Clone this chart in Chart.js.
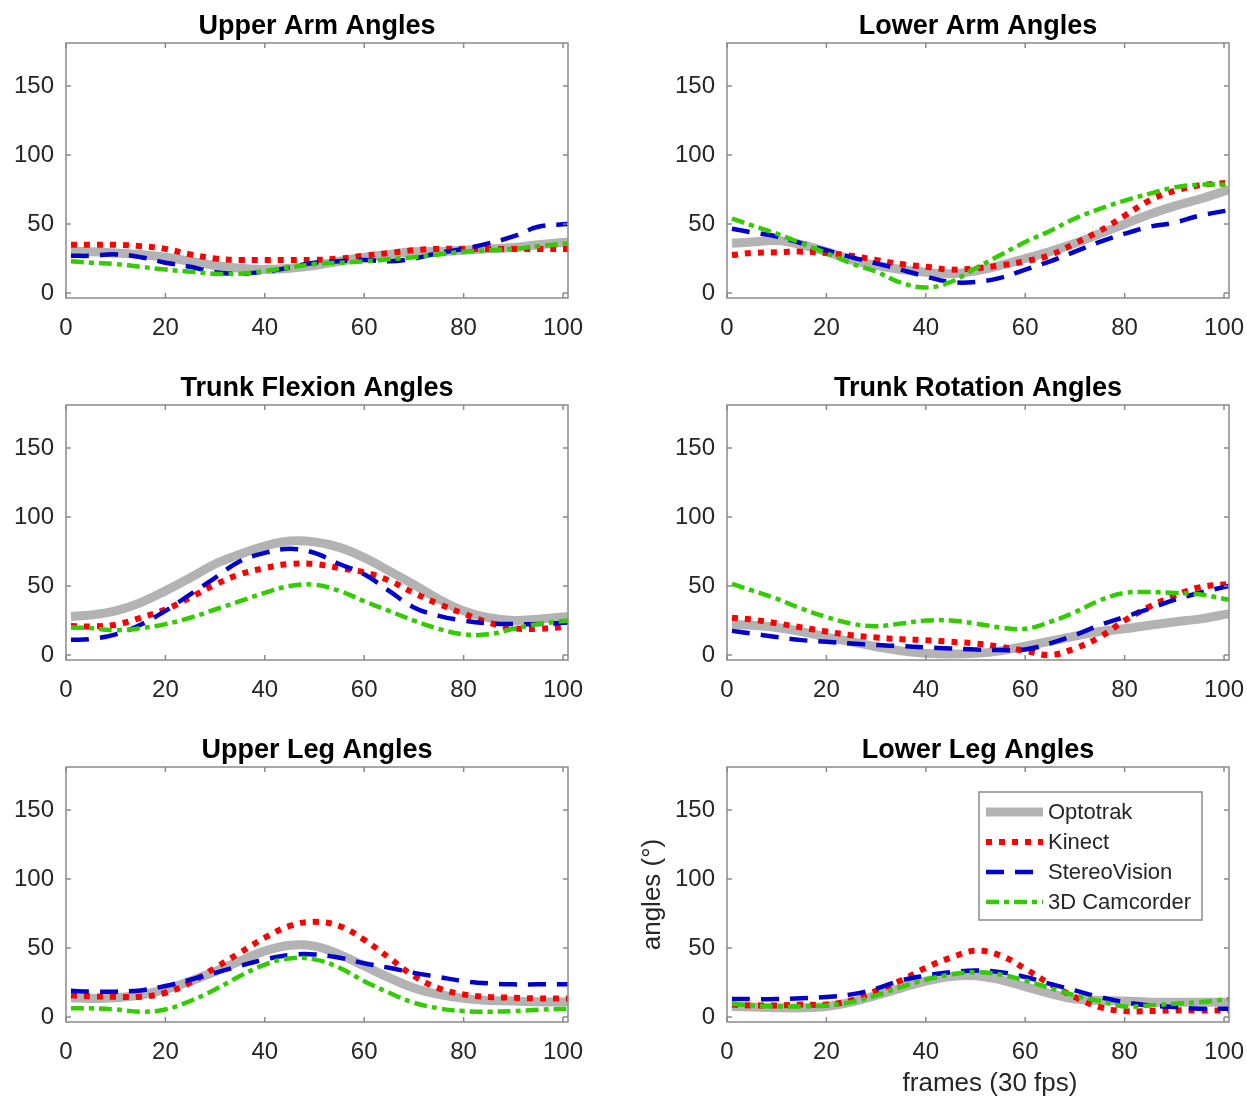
<!DOCTYPE html>
<html>
<head>
<meta charset="utf-8">
<script src="https://cdn.jsdelivr.net/npm/chart.js@4.4.0/dist/chart.umd.min.js"></script>
<style>
  html, body { margin: 0; padding: 0; background: #fff; overflow: hidden; }
  body { width: 1247px; height: 1099px; position: relative; }
  canvas { position: absolute; }
</style>
</head>
<body>
<canvas id="c0" width="600" height="348" style="left:0px;top:0px"></canvas>
<canvas id="c1" width="586" height="348" style="left:661px;top:0px"></canvas>
<canvas id="c2" width="600" height="348" style="left:0px;top:362px"></canvas>
<canvas id="c3" width="586" height="348" style="left:661px;top:362px"></canvas>
<canvas id="c4" width="600" height="348" style="left:0px;top:724px"></canvas>
<canvas id="c5" width="617" height="375" style="left:630px;top:724px"></canvas>
<script>
// frames sampled off the figure (x axis), tick labels
const frames = [1, 5, 10, 15, 20, 25, 30, 35, 40, 45, 50, 55, 60, 65, 70, 75, 80, 85, 90, 95, 101];
const xTicks = [0, 20, 40, 60, 80, 100];
const yTicks = [0, 50, 100, 150];

const seriesNames = ['Optotrak', 'Kinect', 'StereoVision', '3D Camcorder'];
const panelTitles = ['Upper Arm Angles', 'Lower Arm Angles', 'Trunk Flexion Angles',
  'Trunk Rotation Angles', 'Upper Leg Angles', 'Lower Leg Angles'];

// Upper arm
const upperArmOpto   = [30, 30, 29, 28, 26, 23, 20, 18, 17, 18, 20, 23, 26, 28, 30, 30, 31, 32, 33, 35, 37];
const upperArmKinect = [35, 35, 35, 34, 32, 28, 25, 24, 24, 24, 24, 25, 27, 29, 31, 32, 32, 32, 32, 32, 32];
const upperArmStereo = [27, 27, 28, 26, 22, 19, 15, 14, 15.5, 18.5, 22, 23, 24, 23, 25, 29, 32, 36, 41, 48, 50];
const upperArmCam    = [23, 22, 21, 19, 17, 15.5, 14, 14, 16, 18.5, 21, 22, 23, 24.5, 26, 28, 30, 31, 32, 34, 36];

// Lower arm
const lowerArmOpto   = [36, 37, 38, 35, 30, 24, 20, 17, 15, 14, 16, 20, 25, 30, 36, 43, 50, 57, 63, 68, 75];
const lowerArmKinect = [27.5, 29, 29.5, 30, 29, 27, 24, 21, 19, 17, 18, 20, 23, 27.5, 36, 45, 56, 67, 74, 78, 80];
const lowerArmStereo = [46.6, 44, 41, 36, 31, 26, 21.5, 17, 12, 8, 8, 11, 17, 23, 30, 37, 43, 48, 51, 56, 60];
const lowerArmCam    = [54, 49, 43, 36, 29, 21.5, 15.5, 7.5, 4, 8, 18, 27.5, 37, 45, 54, 61, 67, 72, 76.5, 78.5, 78.5];

// Trunk flexion
const trunkFlexOpto   = [28, 29, 32, 38, 46.5, 56, 66, 73, 79, 82.6, 82, 78, 70.6, 61, 51, 40.5, 32, 27, 25, 26, 28];
const trunkFlexKinect = [21, 20.7, 22, 27, 33, 41.7, 51, 58.5, 63, 66, 66, 63, 60, 54, 45, 37, 30, 23.6, 19.5, 19, 20.5];
const trunkFlexStereo = [11, 11.6, 15, 22, 32, 44, 56, 68, 74, 77, 74, 66, 58.5, 46.5, 34.5, 28.4, 25, 23, 22.4, 22.4, 23.6];
const trunkFlexCam    = [20, 19.5, 18, 19.5, 22.4, 27, 33, 39, 45, 50, 51, 46.5, 39, 32, 25, 19, 15, 15, 19, 22.4, 25];

// Trunk rotation
const trunkRotOpto   = [22, 21.6, 20, 17, 13, 9.6, 6, 3, 1.2, 0.7, 1.2, 3, 6.5, 10, 13.7, 17, 19, 21.6, 24, 26, 30];
const trunkRotKinect = [27, 25.7, 23, 20, 17, 14.4, 12.7, 11.5, 10.8, 9.6, 8.4, 6, 3, 0, 4.8, 13, 25, 35, 43, 49, 51.5];
const trunkRotStereo = [17.5, 15.6, 13, 10.8, 9.6, 8.4, 7.2, 6.5, 5.5, 4.8, 4, 3.6, 4, 8.4, 14.4, 21.6, 27.6, 33.6, 40, 45, 50];
const trunkRotCam    = [51.5, 46.8, 40.8, 33.6, 27.6, 22.8, 20.9, 22.8, 25, 25, 22.8, 20, 19, 24, 31, 39.6, 45, 45.6, 45, 44, 40];

// Upper leg
const upperLegOpto   = [14, 13.5, 14, 16, 20, 26, 33, 40.6, 47.8, 52, 51.4, 45.4, 37, 28.5, 21, 16.4, 13.5, 12, 11.6, 11, 11];
const upperLegKinect = [15.7, 15, 14.7, 14.7, 17.6, 25, 35.7, 46.6, 57.5, 66, 69, 66, 56, 43, 29.7, 20.8, 16.4, 14.5, 14, 13.5, 13.5];
const upperLegStereo = [19, 18.4, 18.4, 19.3, 22.5, 27, 32, 37, 41.8, 45, 45.4, 43, 39, 35.7, 32, 29, 26, 24.4, 23.7, 23.7, 23.7];
const upperLegCam    = [6.3, 6.3, 5.5, 3.9, 5.5, 11.6, 20, 29.7, 38, 42.5, 41.8, 35.7, 26, 17.6, 10.4, 6.3, 4.3, 3.9, 4.3, 5.3, 6];

// Lower leg
const lowerLegOpto   = [7.7, 7.2, 6.7, 6.7, 7.7, 10.8, 15.7, 21, 26, 29.4, 30, 27, 22, 17, 13, 12, 11.6, 10.8, 10.8, 10.8, 10.8];
const lowerLegKinect = [9, 8.4, 8.4, 9, 9, 12, 19, 26.5, 35.7, 43, 48, 44.6, 35, 24, 14.5, 7.2, 4.3, 4.3, 4.8, 4.8, 4.8];
const lowerLegStereo = [13, 13, 13, 13.7, 14.5, 16.4, 20.5, 26.5, 30, 32.5, 33.7, 32.5, 29, 24, 19.3, 14.5, 10.8, 8.4, 7.2, 6, 6];
const lowerLegCam    = [9.6, 8.4, 7.7, 7.7, 8.4, 10.8, 15.7, 21.7, 27, 30.8, 32.5, 30.8, 26.5, 21, 15.7, 11.6, 7.7, 8.4, 9.6, 10.8, 13];

const panelSeries = [
  [upperArmOpto, upperArmKinect, upperArmStereo, upperArmCam],
  [lowerArmOpto, lowerArmKinect, lowerArmStereo, lowerArmCam],
  [trunkFlexOpto, trunkFlexKinect, trunkFlexStereo, trunkFlexCam],
  [trunkRotOpto, trunkRotKinect, trunkRotStereo, trunkRotCam],
  [upperLegOpto, upperLegKinect, upperLegStereo, upperLegCam],
  [lowerLegOpto, lowerLegKinect, lowerLegStereo, lowerLegCam],
];

// line looks, matlab-ish
const seriesStyle = [
  { color: '#b3b3b3', width: 9, dash: [] },
  { color: '#ff0000', width: 6, dash: [6, 7] },
  { color: '#0000cc', width: 4.5, dash: [18, 11] },
  { color: '#33cc00', width: 4.5, dash: [13, 5, 5, 5] },
];

const FONT = '"Liberation Sans", Arial, Helvetica, sans-serif';
Chart.defaults.font.family = FONT;

// title centred over the axes (not the canvas), like matlab
const axesTitlePlugin = {
  id: 'axesTitle',
  afterDraw(chart, args, opts) {
    const { ctx, chartArea: a } = chart;
    ctx.save();
    ctx.fillStyle = '#000';
    ctx.font = 'bold 27px ' + FONT;
    ctx.textAlign = 'center';
    ctx.textBaseline = 'middle';
    ctx.fillText(opts.text, (a.left + a.right) / 2, a.top - 16);
    ctx.restore();
  }
};

// box + inward ticks on all four sides
const boxPlugin = {
  id: 'matlabBox',
  afterDatasetsDraw(chart) {
    const { ctx, chartArea: a } = chart;
    const x = chart.scales.x, y = chart.scales.y;
    ctx.save();
    ctx.strokeStyle = '#8a8a8a';
    ctx.lineWidth = 1.5;
    ctx.strokeRect(a.left, a.top, a.right - a.left, a.bottom - a.top);
    ctx.beginPath();
    xTicks.forEach(v => {
      const px = x.getPixelForValue(v);
      ctx.moveTo(px, a.bottom); ctx.lineTo(px, a.bottom - 5);
      ctx.moveTo(px, a.top); ctx.lineTo(px, a.top + 5);
    });
    yTicks.forEach(v => {
      const py = y.getPixelForValue(v);
      ctx.moveTo(a.left, py); ctx.lineTo(a.left + 5, py);
      ctx.moveTo(a.right, py); ctx.lineTo(a.right - 5, py);
    });
    ctx.stroke();
    ctx.restore();
  }
};

// legend box inside the last panel
const legendPlugin = {
  id: 'insideLegend',
  afterDatasetsDraw(chart, args, opts) {
    if (!opts.show) return;
    const { ctx, chartArea: a } = chart;
    const left = a.left + 252, top = a.top + 25, w = 223, h = 128;
    ctx.save();
    ctx.fillStyle = '#fff';
    ctx.fillRect(left, top, w, h);
    ctx.strokeStyle = '#8a8a8a';
    ctx.lineWidth = 1.5;
    ctx.strokeRect(left, top, w, h);
    chart.data.datasets.forEach((ds, i) => {
      const yy = top + 20 + i * 30;
      ctx.beginPath();
      ctx.strokeStyle = ds.borderColor;
      ctx.lineWidth = ds.borderWidth;
      ctx.setLineDash(ds.borderDash);
      ctx.moveTo(left + 7, yy);
      ctx.lineTo(left + 64, yy);
      ctx.stroke();
      ctx.setLineDash([]);
      ctx.fillStyle = '#262626';
      ctx.font = '22px ' + FONT;
      ctx.textBaseline = 'middle';
      ctx.textAlign = 'left';
      ctx.fillText(ds.label, left + 69, yy + 1);
    });
    ctx.restore();
  }
};

// axis labels (only on the last panel)
const axisLabelPlugin = {
  id: 'axisLabels',
  afterDraw(chart, args, opts) {
    if (!opts.show) return;
    const { ctx, chartArea: a } = chart;
    ctx.save();
    ctx.fillStyle = '#262626';
    ctx.font = '26px ' + FONT;
    ctx.textAlign = 'center';
    ctx.textBaseline = 'middle';
    ctx.fillText('frames (30 fps)', (a.left + a.right) / 2 + 12, 360);
    ctx.translate(23, (a.top + a.bottom) / 2);
    ctx.rotate(-Math.PI / 2);
    ctx.fillText('angles (°)', 0, 0);
    ctx.restore();
  }
};

function makePanel(idx) {
  const last = idx === 5;
  const right = idx % 2 === 1;
  const datasets = panelSeries[idx].map((vals, s) => ({
    label: seriesNames[s],
    data: vals.map((v, k) => ({ x: frames[k], y: v })),
    borderColor: seriesStyle[s].color,
    borderWidth: seriesStyle[s].width,
    borderDash: seriesStyle[s].dash,
    borderCapStyle: 'butt',
    pointRadius: 0,
    tension: 0.4,
    fill: false,
    order: 4 - s,
  }));

  new Chart(document.getElementById('c' + idx), {
    type: 'line',
    data: { datasets },
    options: {
      responsive: false,
      animation: false,
      layout: { padding: { left: 0, right: right ? 18 : 32, top: 43, bottom: 0 } },
      plugins: {
        legend: { display: false },
        tooltip: { enabled: false },
        title: { display: false },
        axesTitle: { text: panelTitles[idx] },
        insideLegend: { show: last },
        axisLabels: { show: last },
      },
      scales: {
        x: {
          type: 'linear',
          min: 0, max: 101,
          grid: { display: false, drawTicks: false },
          border: { display: false },
          afterBuildTicks: s => { s.ticks = xTicks.map(v => ({ value: v })); },
          afterFit: s => {
            s.height = last ? 77 : 50;
            s.paddingLeft = 0; s.paddingRight = 0;
          },
          ticks: {
            color: '#262626', padding: 16, maxRotation: 0, autoSkip: false,
            font: { size: 24, family: FONT },
          },
        },
        y: {
          type: 'linear',
          min: -3.6, max: 181.2,
          grid: { display: false, drawTicks: false },
          border: { display: false },
          afterBuildTicks: s => { s.ticks = yTicks.map(v => ({ value: v })); },
          afterFit: s => {
            s.width = last ? 97 : 66;
            s.paddingTop = 0; s.paddingBottom = 0;
          },
          ticks: {
            color: '#262626', padding: 12, autoSkip: false,
            font: { size: 24, family: FONT },
          },
        },
      },
    },
    plugins: [boxPlugin, legendPlugin, axisLabelPlugin, axesTitlePlugin],
  });
}

for (let i = 0; i < 6; i++) makePanel(i);
</script>
</body>
</html>
